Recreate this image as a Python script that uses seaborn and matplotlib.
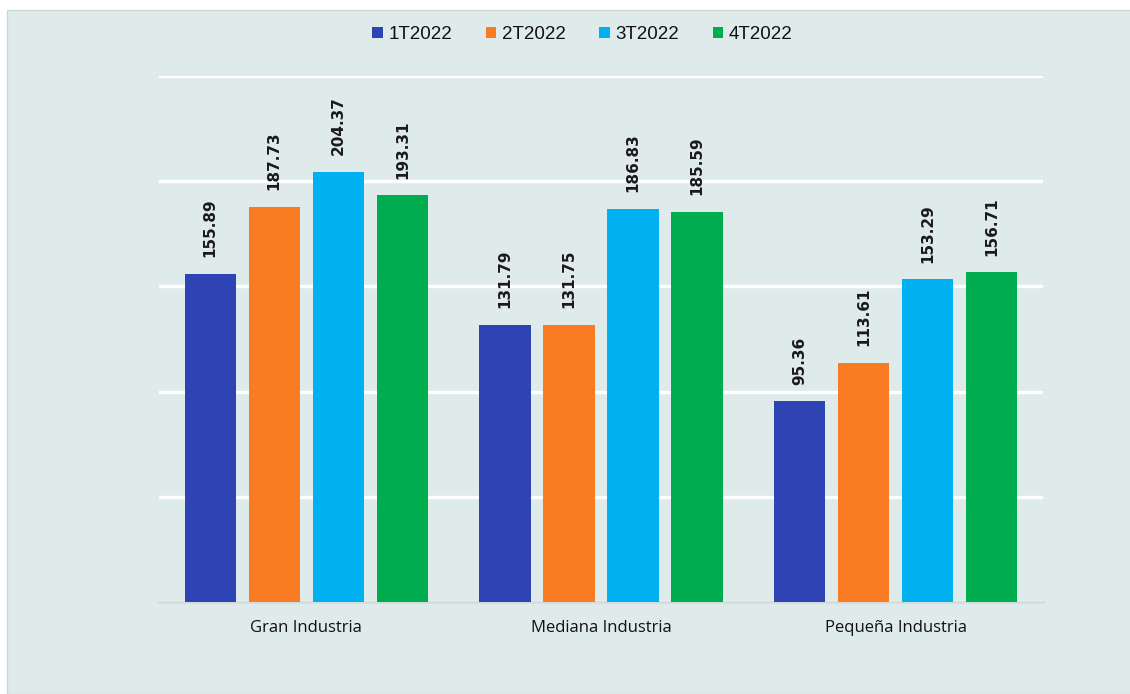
import pandas as pd
import seaborn as sns
import matplotlib.pyplot as plt
from matplotlib.patches import Rectangle

sectors = ["Gran Industria", "Mediana Industria", "Pequeña Industria"]
periods = ["1T2022", "2T2022", "3T2022", "4T2022"]
val_1t = [155.89, 131.79, 95.36]
val_2t = [187.73, 131.75, 113.61]
val_3t = [204.37, 186.83, 153.29]
val_4t = [193.31, 185.59, 156.71]
colors = ["#2E44B5", "#F97B22", "#00B0F0", "#00AD4E"]

rows = []
for per, vals in zip(periods, [val_1t, val_2t, val_3t, val_4t]):
    for sec, v in zip(sectors, vals):
        rows.append({"sector": sec, "periodo": per, "valor": v})
df = pd.DataFrame(rows)

sns.set_theme(style="white")
plt.rcParams["font.family"] = ["Liberation Sans", "DejaVu Sans"]

fig = plt.figure(figsize=(11.3, 6.94), dpi=100, facecolor="white")
# panel de fondo
fig.patches.append(Rectangle((7 / 1130, 0), 1, 684 / 694, transform=fig.transFigure,
                             facecolor="#DFEBEA", edgecolor="#cfd8d8", lw=1, zorder=-10))

ax = fig.add_axes([159 / 1130, 92 / 694, 884 / 1130, 526 / 694])
ax.set_facecolor("none")

sns.barplot(data=df, x="sector", y="valor", hue="periodo", palette=colors,
            saturation=1, width=0.87, gap=0.2, linewidth=0, ax=ax, zorder=3)

ax.set_ylim(0, 250)
ax.set_xlim(-0.5, 2.5)
ax.set_yticks(range(0, 251, 50))
ax.yaxis.grid(True, color="white", linewidth=2.4)
ax.set_axisbelow(True)
ax.tick_params(axis="y", left=False, labelleft=False)
ax.tick_params(axis="x", bottom=False, pad=7, labelcolor="#111111")
for lab in ax.get_xticklabels():
    lab.set_family(["Open Sans", "DejaVu Sans"])
    lab.set_fontsize(12)
for s in ["top", "right", "left"]:
    ax.spines[s].set_visible(False)
ax.spines["bottom"].set_color("#d6dcdc")
ax.spines["bottom"].set_linewidth(2)
ax.set_xlabel("")
ax.set_ylabel("")

for cont in ax.containers:
    ax.bar_label(cont, labels=[f"{v:.2f}" for v in cont.datavalues], rotation=90,
                 padding=12, fontsize=11, fontweight="semibold", color="#1a1a1a",
                 family=["DejaVu Sans"])

ax.legend(loc="center", bbox_to_anchor=(0.479, 1.078), ncol=4, frameon=False,
          fontsize=13.5, handlelength=0.55, handleheight=0.55, handletextpad=0.3,
          columnspacing=1.8, labelcolor="#111111")

fig.savefig("out.png", dpi=100, facecolor=fig.get_facecolor())
